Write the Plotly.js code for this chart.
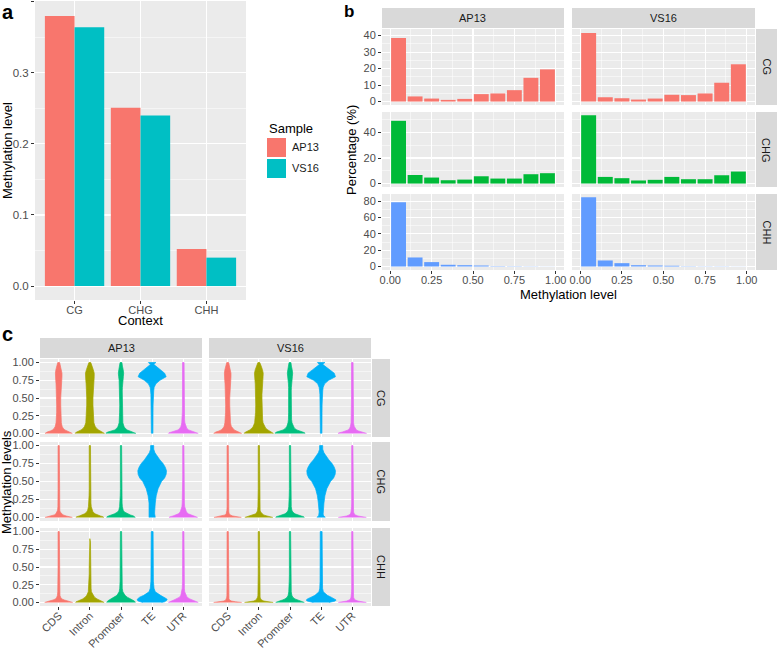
<!DOCTYPE html>
<html>
<head>
<meta charset="utf-8">
<script src="https://cdn.plot.ly/plotly-3.0.1.min.js"></script>
<style>
  html, body { margin: 0; padding: 0; background: #ffffff; }
  #chart { width: 778px; height: 650px; }
</style>
</head>
<body>
<div id="chart"></div>
<script>
// ---- panel a: mean methylation level per context ----
const contexts = ["CG", "CHG", "CHH"];
const samples = ["AP13", "VS16"];
const meanAP13 = [0.380, 0.251, 0.052];
const meanVS16 = [0.364, 0.240, 0.040];

// ---- panel b: distribution of methylation level (percentage per bin) ----
const binCenters = [0.05, 0.15, 0.25, 0.35, 0.45, 0.55, 0.65, 0.75, 0.85, 0.95];
const histCG_AP13 = [38.6, 3.1, 1.8, 1.0, 1.6, 4.5, 4.9, 6.9, 14.4, 19.5];
const histCG_VS16 = [41.6, 2.6, 2.0, 1.2, 1.8, 4.1, 3.9, 4.9, 11.4, 22.6];
const histCHG_AP13 = [49.1, 6.7, 4.7, 2.6, 3.1, 5.7, 3.9, 3.9, 7.3, 8.1];
const histCHG_VS16 = [53.4, 5.2, 4.2, 2.4, 2.9, 5.2, 3.4, 3.4, 6.5, 9.4];
const histCHH_AP13 = [78.8, 11.1, 5.4, 2.1, 1.6, 1.2, 0.4, 0.3, 0.2, 0.1];
const histCHH_VS16 = [84.9, 7.4, 4.1, 1.6, 1.2, 0.9, 0.3, 0.2, 0.2, 0.1];

// ---- panel c: violin half-widths (category units) at each methylation level ----
const features = ["CDS", "Intron", "Promoter", "TE", "UTR"];
const violinLevels = [0, 0.01, 0.02, 0.035, 0.05, 0.075, 0.1, 0.15, 0.2, 0.3, 0.4, 0.5,
  0.55, 0.6, 0.65, 0.7, 0.75, 0.8, 0.85, 0.9, 0.95, 0.975, 0.99, 1.0];

const violinCG_AP13 = [
  [0.44, 0.42, 0.37, 0.27, 0.2, 0.14, 0.11, 0.085, 0.075, 0.065, 0.065, 0.065, 0.065, 0.07, 0.075, 0.085, 0.095, 0.105, 0.105, 0.09, 0.065, 0.045, 0.035, 0.03],
  [0.47, 0.46, 0.42, 0.34, 0.28, 0.21, 0.17, 0.13, 0.12, 0.105, 0.1, 0.1, 0.1, 0.105, 0.11, 0.12, 0.13, 0.14, 0.14, 0.11, 0.07, 0.045, 0.035, 0.03],
  [0.48, 0.47, 0.42, 0.3, 0.2, 0.13, 0.095, 0.06, 0.05, 0.045, 0.04, 0.04, 0.04, 0.04, 0.045, 0.05, 0.06, 0.075, 0.085, 0.07, 0.045, 0.035, 0.03, 0.03],
  [0.025, 0.025, 0.025, 0.025, 0.025, 0.025, 0.025, 0.025, 0.025, 0.028, 0.03, 0.035, 0.04, 0.05, 0.065, 0.12, 0.25, 0.45, 0.4, 0.26, 0.12, 0.05, 0.1, 0.12],
  [0.48, 0.46, 0.38, 0.26, 0.17, 0.11, 0.075, 0.05, 0.04, 0.03, 0.027, 0.025, 0.025, 0.025, 0.025, 0.025, 0.025, 0.025, 0.025, 0.025, 0.025, 0.025, 0.025, 0.025],
];
const violinCG_VS16 = [
  [0.45, 0.43, 0.38, 0.28, 0.21, 0.15, 0.115, 0.09, 0.078, 0.068, 0.065, 0.065, 0.065, 0.07, 0.075, 0.085, 0.095, 0.105, 0.105, 0.09, 0.065, 0.045, 0.035, 0.03],
  [0.47, 0.46, 0.42, 0.35, 0.29, 0.22, 0.18, 0.135, 0.12, 0.105, 0.1, 0.1, 0.1, 0.1, 0.105, 0.115, 0.125, 0.135, 0.14, 0.115, 0.075, 0.05, 0.035, 0.03],
  [0.48, 0.47, 0.43, 0.32, 0.22, 0.14, 0.1, 0.065, 0.05, 0.045, 0.04, 0.04, 0.04, 0.04, 0.045, 0.05, 0.06, 0.075, 0.085, 0.07, 0.045, 0.035, 0.03, 0.03],
  [0.025, 0.025, 0.025, 0.025, 0.025, 0.025, 0.025, 0.025, 0.025, 0.028, 0.03, 0.035, 0.04, 0.05, 0.065, 0.11, 0.24, 0.46, 0.42, 0.27, 0.12, 0.05, 0.1, 0.12],
  [0.46, 0.42, 0.32, 0.2, 0.13, 0.085, 0.06, 0.04, 0.035, 0.028, 0.025, 0.025, 0.025, 0.025, 0.025, 0.025, 0.025, 0.025, 0.025, 0.025, 0.025, 0.025, 0.025, 0.025],
];
const violinCHG_AP13 = [
  [0.44, 0.36, 0.24, 0.14, 0.09, 0.05, 0.035, 0.025, 0.02, 0.02, 0.02, 0.02, 0.02, 0.02, 0.02, 0.02, 0.02, 0.02, 0.02, 0.02, 0.02, 0.02, 0.02, 0.02],
  [0.45, 0.42, 0.34, 0.24, 0.17, 0.1, 0.07, 0.045, 0.035, 0.025, 0.02, 0.02, 0.02, 0.02, 0.02, 0.02, 0.02, 0.02, 0.02, 0.02, 0.02, 0.02, 0.02, 0.02],
  [0.46, 0.45, 0.4, 0.3, 0.21, 0.11, 0.07, 0.045, 0.035, 0.025, 0.02, 0.02, 0.02, 0.02, 0.02, 0.02, 0.02, 0.02, 0.02, 0.02, 0.02, 0.02, 0.02, 0.02],
  [0.1, 0.1, 0.09, 0.085, 0.08, 0.08, 0.08, 0.085, 0.1, 0.13, 0.19, 0.3, 0.4, 0.45, 0.46, 0.42, 0.35, 0.25, 0.16, 0.09, 0.05, 0.04, 0.05, 0.05],
  [0.46, 0.42, 0.33, 0.24, 0.16, 0.1, 0.075, 0.045, 0.035, 0.025, 0.02, 0.02, 0.02, 0.02, 0.02, 0.02, 0.02, 0.02, 0.02, 0.02, 0.02, 0.02, 0.02, 0.02],
];
const violinCHG_VS16 = [
  [0.44, 0.3, 0.16, 0.08, 0.05, 0.035, 0.025, 0.02, 0.02, 0.02, 0.02, 0.02, 0.02, 0.02, 0.02, 0.02, 0.02, 0.02, 0.02, 0.02, 0.02, 0.02, 0.02, 0.02],
  [0.45, 0.38, 0.26, 0.15, 0.1, 0.06, 0.04, 0.03, 0.025, 0.02, 0.02, 0.02, 0.02, 0.02, 0.02, 0.02, 0.02, 0.02, 0.02, 0.02, 0.02, 0.02, 0.02, 0.02],
  [0.46, 0.44, 0.36, 0.24, 0.16, 0.09, 0.06, 0.04, 0.03, 0.025, 0.02, 0.02, 0.02, 0.02, 0.02, 0.02, 0.02, 0.02, 0.02, 0.02, 0.02, 0.02, 0.02, 0.02],
  [0.13, 0.12, 0.08, 0.07, 0.065, 0.065, 0.07, 0.075, 0.09, 0.12, 0.18, 0.3, 0.4, 0.45, 0.46, 0.42, 0.35, 0.25, 0.16, 0.09, 0.05, 0.04, 0.05, 0.05],
  [0.45, 0.3, 0.18, 0.1, 0.06, 0.04, 0.03, 0.025, 0.02, 0.02, 0.02, 0.02, 0.02, 0.02, 0.02, 0.02, 0.02, 0.02, 0.02, 0.02, 0.02, 0.02, 0.02, 0.02],
];
const violinCHH_AP13 = [
  [0.45, 0.4, 0.3, 0.18, 0.1, 0.06, 0.04, 0.03, 0.025, 0.02, 0.02, 0.02, 0.02, 0.02, 0.02, 0.02, 0.02, 0.02, 0.02, 0.02, 0.02, 0.02, 0.02, 0.02],
  [0.46, 0.44, 0.38, 0.3, 0.23, 0.15, 0.1, 0.05, 0.04, 0.025, 0.02, 0.02, 0.02, 0.02, 0.02, 0.02, 0.02, 0.02, 0.02, 0, 0, 0, 0, 0],
  [0.46, 0.45, 0.43, 0.38, 0.32, 0.2, 0.13, 0.06, 0.04, 0.03, 0.025, 0.02, 0.02, 0.02, 0.02, 0.02, 0.02, 0.02, 0.02, 0.02, 0.02, 0.02, 0.02, 0.02],
  [0.3, 0.4, 0.45, 0.48, 0.47, 0.4, 0.27, 0.1, 0.06, 0.04, 0.035, 0.03, 0.03, 0.03, 0.03, 0.03, 0.03, 0.03, 0.03, 0.03, 0.03, 0.03, 0.03, 0.03],
  [0.48, 0.45, 0.38, 0.3, 0.21, 0.12, 0.08, 0.045, 0.035, 0.025, 0.02, 0.02, 0.02, 0.02, 0.02, 0.02, 0.02, 0.02, 0.02, 0.02, 0.02, 0.02, 0.02, 0.02],
];
const violinCHH_VS16 = [
  [0.45, 0.25, 0.12, 0.06, 0.04, 0.03, 0.025, 0.02, 0.02, 0.02, 0.02, 0.02, 0.02, 0.02, 0.02, 0.02, 0.02, 0.02, 0.02, 0.02, 0.02, 0.02, 0.02, 0.02],
  [0.46, 0.3, 0.16, 0.09, 0.06, 0.04, 0.03, 0.025, 0.02, 0.02, 0.02, 0.02, 0.02, 0.02, 0.02, 0.02, 0.02, 0.02, 0.02, 0.02, 0.02, 0.02, 0.02, 0.02],
  [0.46, 0.42, 0.34, 0.24, 0.16, 0.09, 0.06, 0.04, 0.03, 0.025, 0.02, 0.02, 0.02, 0.02, 0.02, 0.02, 0.02, 0.02, 0.02, 0.02, 0.02, 0.02, 0.02, 0.02],
  [0.25, 0.38, 0.45, 0.48, 0.44, 0.32, 0.2, 0.07, 0.045, 0.035, 0.03, 0.03, 0.03, 0.03, 0.03, 0.03, 0.03, 0.03, 0.03, 0.03, 0.03, 0.03, 0.03, 0.03],
  [0.45, 0.3, 0.18, 0.1, 0.06, 0.04, 0.03, 0.025, 0.02, 0.02, 0.02, 0.02, 0.02, 0.02, 0.02, 0.02, 0.02, 0.02, 0.02, 0.02, 0.02, 0.02, 0.02, 0.02],
];

const sampleColors = ["#F8766D", "#00BFC4"];
const contextColors = ["#F8766D", "#00BA38", "#619CFF"];
const featureColors = ["#F8766D", "#A3A500", "#00BF7D", "#00B0F6", "#E76BF3"];

const W = 778, H = 650;
const FONT = "Liberation Sans, Arial, sans-serif";
const px = (x) => x / W;
const py = (y) => 1 - y / H;

function axisStyle(extra) {
  return Object.assign({
    showgrid: true,
    gridcolor: "#FFFFFF",
    gridwidth: 1.1,
    zeroline: false,
    showline: false,
    ticks: "outside",
    ticklen: 3,
    tickwidth: 1,
    tickcolor: "#333333",
    tickfont: { family: FONT, size: 11, color: "#4D4D4D" },
    fixedrange: true,
  }, extra);
}

function minorGrid(dtick) {
  return { dtick, showgrid: true, gridcolor: "#FFFFFF", gridwidth: 0.5, ticks: "" };
}

const layout = {
  width: W,
  height: H,
  margin: { l: 0, r: 0, t: 0, b: 0 },
  paper_bgcolor: "#FFFFFF",
  plot_bgcolor: "#EBEBEB",
  showlegend: false,
  barmode: "group",
  bargap: 0.1,
  bargroupgap: 0,
  font: { family: FONT, color: "#000000" },
  shapes: [],
  annotations: [],
};

const traces = [];

function label(x, y, text, opts) {
  layout.annotations.push(Object.assign({
    xref: "paper", yref: "paper", x: px(x), y: py(y), text, showarrow: false,
    xanchor: "center", yanchor: "middle",
    font: { family: FONT, size: 13, color: "#000000" },
  }, opts));
}

function strip(x0, x1, y0, y1, text, vertical) {
  layout.shapes.push({
    type: "rect", xref: "paper", yref: "paper",
    x0: px(x0), x1: px(x1), y0: py(y1), y1: py(y0),
    fillcolor: "#D9D9D9", line: { width: 0 },
  });
  label((x0 + x1) / 2, (y0 + y1) / 2, text, {
    textangle: vertical ? 90 : 0,
    font: { family: FONT, size: 11, color: "#1A1A1A" },
  });
}

// ---- panel a ----
layout.xaxis = axisStyle({
  domain: [px(35), px(246)], anchor: "y", type: "category",
  categoryorder: "array", categoryarray: contexts, range: [-0.6, 2.6],
  ticklabelstandoff: -3,
});
layout.yaxis = axisStyle({
  domain: [py(300), py(1)], anchor: "x", range: [-0.0196, 0.401],
  tick0: 0, dtick: 0.1, tickformat: ".1f", minor: minorGrid(0.05),
  tickfont: { family: FONT, size: 11.5, color: "#4D4D4D" },
});
[meanAP13, meanVS16].forEach((vals, i) => {
  traces.push({
    type: "bar", x: contexts, y: vals, name: samples[i],
    marker: { color: sampleColors[i] }, xaxis: "x", yaxis: "y", hoverinfo: "skip",
  });
});
label(7, 151, "Methylation level", { textangle: -90 });
label(140.5, 320, "Context");

// legend for panel a
label(267, 128, "Sample", { xanchor: "left" });
samples.forEach((s, i) => {
  const top = 138 + i * 21;
  layout.shapes.push({
    type: "rect", xref: "paper", yref: "paper",
    x0: px(267), x1: px(286), y0: py(top + 19), y1: py(top),
    fillcolor: sampleColors[i], line: { width: 0 },
  });
  label(290, top + 9.5, s, { xanchor: "left", font: { family: FONT, size: 11, color: "#1A1A1A" } });
});

// ---- panel b ----
const bCols = [[382, 564], [572, 755]];
const bRows = [[29, 105], [112, 187], [194, 270]];
const bYRange = [[-2.1, 44], [-2.7, 56], [-4.3, 89]];
const bYTick = [10, 20, 20];
const bHist = [[histCG_AP13, histCG_VS16], [histCHG_AP13, histCHG_VS16], [histCHH_AP13, histCHH_VS16]];

bRows.forEach((row, r) => {
  bCols.forEach((col, c) => {
    const k = 2 + r * 2 + c;
    const bottom = r === bRows.length - 1;
    layout["xaxis" + k] = axisStyle({
      domain: [px(col[0]), px(col[1])], anchor: "y" + k, range: [-0.05, 1.05],
      tick0: 0, dtick: 0.25, tickformat: ".2f", minor: minorGrid(0.125),
      showticklabels: bottom, ticks: bottom ? "outside" : "", ticklabelstandoff: -3,
    });
    layout["yaxis" + k] = axisStyle({
      domain: [py(row[1]), py(row[0])], anchor: "x" + k, range: bYRange[r],
      tick0: 0, dtick: bYTick[r], minor: minorGrid(bYTick[r] / 2),
      showticklabels: c === 0, ticks: c === 0 ? "outside" : "",
    });
    traces.push({
      type: "bar", x: binCenters, y: bHist[r][c], width: 0.09,
      marker: { color: contextColors[r] }, xaxis: "x" + k, yaxis: "y" + k, hoverinfo: "skip",
    });
  });
  strip(756, 777, row[0], row[1], contexts[r], true);
});
bCols.forEach((col, c) => strip(col[0], col[1], 8, 28, samples[c], false));
label(351, 150, "Percentage (%)", { textangle: -90 });
label(568.5, 295, "Methylation level");

// ---- panel c ----
const cCols = [[40, 202], [209, 371]];
const cRows = [[359, 437], [442, 521], [528, 606]];
const cViolins = [[violinCG_AP13, violinCG_VS16], [violinCHG_AP13, violinCHG_VS16], [violinCHH_AP13, violinCHH_VS16]];
const featurePos = features.map((f, i) => i + 1);

function violinTrace(widths, pos, color, xa, ya) {
  const left = [], right = [], ys = [];
  for (let k = 0; k < violinLevels.length; k++) {
    const w = widths[k];
    left.push(pos - w);
    right.push(pos + w);
    ys.push(violinLevels[k]);
    if (w === 0) break;
  }
  return {
    type: "scatter", mode: "lines",
    x: left.concat(right.slice().reverse()),
    y: ys.concat(ys.slice().reverse()),
    fill: "toself", fillcolor: color,
    line: { color, width: 0.7 },
    xaxis: xa, yaxis: ya, hoverinfo: "skip",
  };
}

cRows.forEach((row, r) => {
  cCols.forEach((col, c) => {
    const k = 8 + r * 2 + c;
    const bottom = r === cRows.length - 1;
    layout["xaxis" + k] = axisStyle({
      domain: [px(col[0]), px(col[1])], anchor: "y" + k, range: [0.4, 5.6],
      tickmode: "array", tickvals: featurePos, ticktext: features, tickangle: -45,
      showticklabels: bottom, ticks: bottom ? "outside" : "", ticklabelstandoff: -5,
      tickfont: { family: FONT, size: 11, color: "#4D4D4D" },
    });
    layout["yaxis" + k] = axisStyle({
      domain: [py(row[1]), py(row[0])], anchor: "x" + k, range: [-0.05, 1.05],
      tick0: 0, dtick: 0.25, tickformat: ".2f", minor: minorGrid(0.125),
      showticklabels: c === 0, ticks: c === 0 ? "outside" : "",
    });
    cViolins[r][c].forEach((widths, i) => {
      traces.push(violinTrace(widths, featurePos[i], featureColors[i], "x" + k, "y" + k));
    });
  });
  strip(372, 390, row[0], row[1], contexts[r], true);
});
cCols.forEach((col, c) => strip(col[0], col[1], 338, 358, samples[c], false));
label(6, 482, "Methylation levels", { textangle: -90 });

// ---- panel letters ----
const boldLetter = (size) => ({ font: { family: FONT, size, color: "#000000" } });
label(8, 12, "<b>a</b>", boldLetter(20));
label(349, 11, "<b>b</b>", boldLetter(17));
label(7, 334, "<b>c</b>", boldLetter(20));

Plotly.newPlot("chart", traces, layout, { staticPlot: true, displayModeBar: false });
</script>
</body>
</html>
